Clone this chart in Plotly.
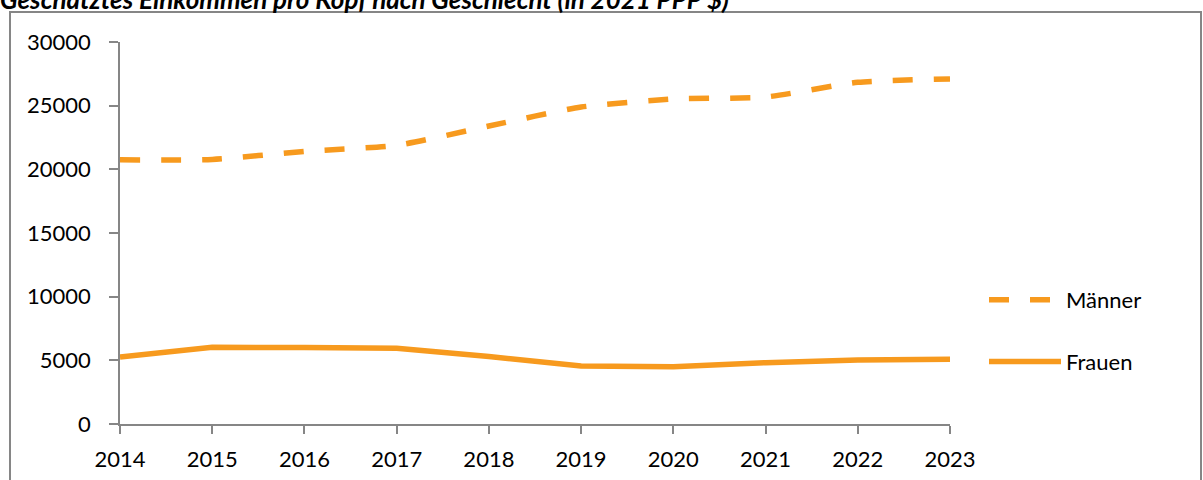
import plotly.graph_objects as go

years = [2014, 2015, 2016, 2017, 2018, 2019, 2020, 2021, 2022, 2023]
maenner = [20750, 20780, 21410, 21890, 23400, 24890, 25520, 25680, 26830, 27100]
frauen = [5270, 6020, 6000, 5950, 5300, 4560, 4500, 4820, 5030, 5080]
y_ticks = [0, 5000, 10000, 15000, 20000, 25000, 30000]
title_text = "Geschätztes Einkommen pro Kopf nach Geschlecht (in 2021 PPP $)"

ORANGE = "#F79A1E"
AXIS = "#868686"
FONT = "Lato, Carlito, Calibri, sans-serif"

W, H = 1203, 480
L, R, T, B = 120, 253, 42, 56
pw, ph = W - L - R, H - T - B

fig = go.Figure()
fig.add_trace(go.Scatter(x=years, y=maenner, name="Männer", mode="lines",
                         line=dict(color=ORANGE, width=5.5, dash="20px,21px", shape="spline", smoothing=0.6),
                         legendgroup="m"))
fig.add_trace(go.Scatter(x=years, y=frauen, name="Frauen", mode="lines",
                         line=dict(color=ORANGE, width=5.5),
                         legendgroup="f"))

fig.update_layout(
    width=W, height=H,
    margin=dict(l=L, r=R, t=T, b=B, autoexpand=False),
    paper_bgcolor="white", plot_bgcolor="white",
    font=dict(family=FONT, size=22, color="#000000"),
    showlegend=True,
    legend=dict(x=(984 - L) / pw, y=(425 - 280) / ph, xanchor="left", yanchor="top",
                traceorder="grouped", tracegroupgap=30, itemwidth=72,
                font=dict(size=22, family=FONT), bgcolor="rgba(0,0,0,0)"),
    xaxis=dict(range=[2014, 2023], tickmode="array", tickvals=years,
               ticktext=[str(y) for y in years], showgrid=False, zeroline=False,
               showline=True, linecolor=AXIS, linewidth=1.5,
               ticks="outside", ticklen=8, tickcolor=AXIS, tickwidth=1.5,
               ticklabelstandoff=7, tickfont=dict(size=22)),
    yaxis=dict(range=[0, 30000], tickmode="array", tickvals=y_ticks,
               ticktext=[str(v) for v in y_ticks], showgrid=False, zeroline=False,
               showline=True, linecolor=AXIS, linewidth=1.5,
               ticks="outside", ticklen=9, tickcolor=AXIS, tickwidth=1.5,
               ticklabelstandoff=14, tickfont=dict(size=22)),
    shapes=[dict(type="rect", xref="paper", yref="paper",
                 x0=(10 - L) / pw, x1=(1201 - L) / pw,
                 y0=(H - B - 500) / ph, y1=(H - B - 12) / ph,
                 line=dict(color=AXIS, width=2), fillcolor="rgba(0,0,0,0)", layer="below")],
    annotations=[dict(text="<b><i>" + title_text + "</i></b>", xref="paper", yref="paper",
                      x=(-2 - L) / pw, y=(H - B - 17) / ph, xanchor="left", yanchor="bottom",
                      showarrow=False, font=dict(size=26, family=FONT, color="#000000"))],
)

fig.write_html("out.html", config={"displayModeBar": False},
               post_script="document.body.style.margin='0';document.body.style.overflow='hidden';")
